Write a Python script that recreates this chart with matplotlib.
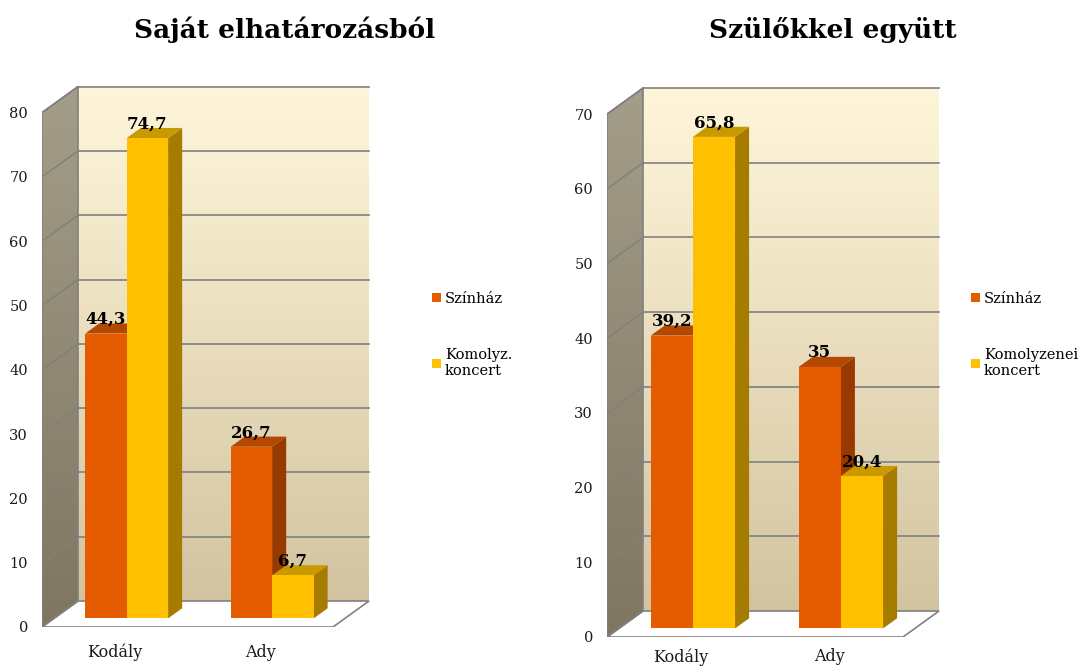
import numpy as np
import matplotlib.pyplot as plt
from matplotlib.patches import Polygon, Patch

plt.rcParams['font.family'] = ['DejaVu Serif']

# Adatok
kategoriak = ['Kodály', 'Ady']
bal_cim = 'Saját elhatározásból'
jobb_cim = 'Szülőkkel együtt'
bal_sorozatok = ['Színház', 'Komolyz.\nkoncert']
jobb_sorozatok = ['Színház', 'Komolyzenei\nkoncert']
bal_szinhaz = [44.3, 26.7]
bal_komoly = [74.7, 6.7]
jobb_szinhaz = [39.2, 35]
jobb_komoly = [65.8, 20.4]
bal_max = 80
jobb_max = 70

# Szinek
narancs = ['#E55C00', '#983A00', '#B44800']   # elol, oldal, teteje
sarga = ['#FFC000', '#A67C00', '#C99A00']
racs = '#808080'

W, H = 1089, 667
fig = plt.figure(figsize=(W/100, H/100), dpi=100)


def panel(px_left, px_bottom, px_unit_x, px_unit_y, vmax, ertekek, cim, cim_x, xpad):
    dxu = 36/px_unit_x          # melyseg eltolas x
    dyu = 26/px_unit_y          # melyseg eltolas y
    xmax = 1.85
    ytop = vmax + dyu + 1.5
    ax = fig.add_axes([px_left/W, px_bottom/H,
                       (xmax+0.5)*px_unit_x/W, ytop*px_unit_y/H])
    P = lambda x, v, z: (x + z*dxu, v + z*dyu)

    # hatso fal szinatmenet
    g = np.linspace(0, 1, 256)[:, None, None]
    top = np.array([255, 246, 218])/255
    bot = np.array([211, 196, 160])/255
    img = top*(1-g) + bot*g
    ax.imshow(img, extent=[-0.5+dxu, 1.5+dxu, dyu, vmax+dyu],
              aspect='auto', zorder=1)

    # oldalfal
    side = [P(-0.5, 0, 0), P(-0.5, vmax, 0), P(-0.5, vmax, 1), P(-0.5, 0, 1)]
    top2 = np.array([163, 157, 138])/255
    bot2 = np.array([128, 118, 96])/255
    img2 = top2*(1-g) + bot2*g
    im = ax.imshow(img2, extent=[-0.5, -0.5+dxu, 0, vmax+dyu],
                   aspect='auto', zorder=1)
    sp = Polygon(side, closed=True, facecolor='none', edgecolor=racs, lw=1.2, zorder=3)
    ax.add_patch(sp)
    im.set_clip_path(sp)

    # racsvonalak
    for v in range(10, vmax+1, 10):
        ax.plot([-0.5+dxu, 1.5+dxu], [v+dyu, v+dyu], color=racs, lw=1.2, zorder=2)
        ax.plot(*zip(P(-0.5, v, 0), P(-0.5, v, 1)), color=racs, lw=1.1, zorder=2)

    # padlo
    floor = [P(-0.5, 0, 0), P(1.5, 0, 0), P(1.5, 0, 1), P(-0.5, 0, 1)]
    ax.add_patch(Polygon(floor, closed=True, facecolor='white',
                         edgecolor=racs, lw=1.2, zorder=2))

    # oszlopok
    w, z0, z1 = 0.285, 0.33, 0.72
    for i in range(len(kategoriak)):
        for x0, v, col in [(i-w, ertekek[0][i], narancs), (i, ertekek[1][i], sarga)]:
            x1 = x0 + w
            oldal = [P(x1, 0, z0), P(x1, v, z0), P(x1, v, z1), P(x1, 0, z1)]
            teto = [P(x0, v, z0), P(x1, v, z0), P(x1, v, z1), P(x0, v, z1)]
            elol = [P(x0, 0, z0), P(x1, 0, z0), P(x1, v, z0), P(x0, v, z0)]
            ax.add_patch(Polygon(oldal, closed=True, facecolor=col[1], lw=0, zorder=4))
            ax.add_patch(Polygon(teto, closed=True, facecolor=col[2], lw=0, zorder=4))
            ax.add_patch(Polygon(elol, closed=True, facecolor=col[0], lw=0, zorder=4))
            ax.annotate(f'{v:g}'.replace('.', ','), xy=P(x0 + w/2, v, z0),
                        xytext=(0, 4), textcoords='offset points',
                        ha='center', va='bottom', fontsize=12,
                        fontweight='bold', zorder=6)

    ax.set_xlim(-0.5, xmax)
    ax.set_ylim(0, ytop)
    for s in ax.spines.values():
        s.set_visible(False)
    ax.set_yticks(range(0, vmax+1, 10))
    ax.set_xticks(range(len(kategoriak)), kategoriak)
    ax.tick_params(axis='y', length=0, pad=10, labelsize=10.5, colors='#1a1a1a')
    ax.tick_params(axis='x', length=0, pad=xpad, labelsize=11.5, colors='#1a1a1a')
    fig.text(cim_x/W, 1 - 30/H, cim, ha='center', va='center',
             fontsize=19, fontweight='bold')
    return ax


panel(42, 40, 145.5, 6.43, bal_max, [bal_szinhaz, bal_komoly], bal_cim, 285, 12)
panel(607, 30, 148, 7.47, jobb_max, [jobb_szinhaz, jobb_komoly], jobb_cim, 833, 8)

for x, labels in [(432, bal_sorozatok), (971, jobb_sorozatok)]:
    h = [Patch(facecolor=narancs[0]), Patch(facecolor=sarga[0])]
    fig.legend(h, labels, loc='upper left', bbox_to_anchor=(x/W, 1 - 292/H),
               frameon=False, borderpad=0, borderaxespad=0, handlelength=0.6,
               handleheight=0.6, handletextpad=0.3, labelspacing=2.9,
               fontsize=10.5)

fig.savefig('out.png', dpi=100)
